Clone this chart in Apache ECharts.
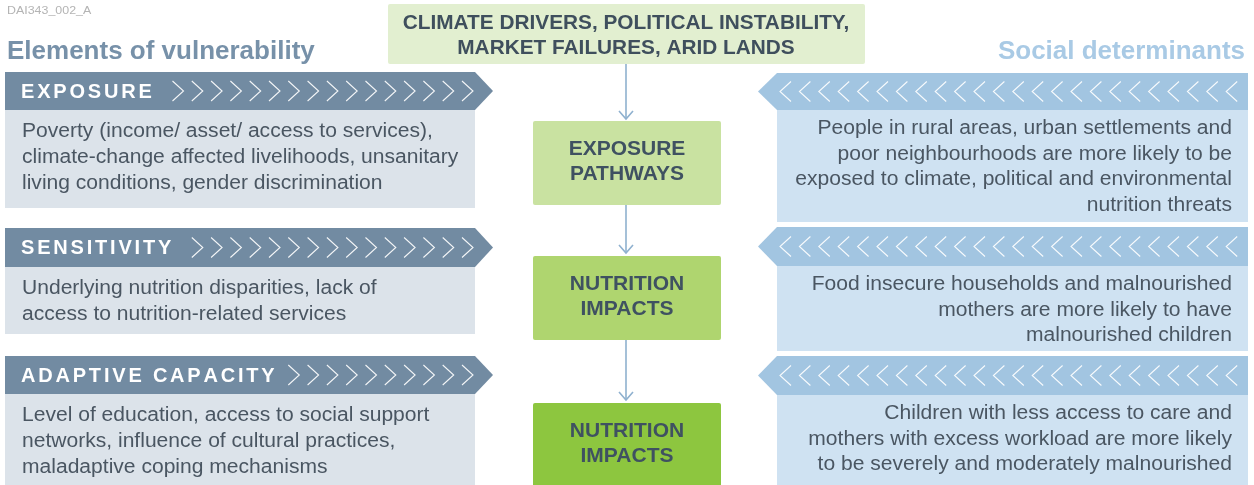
<!DOCTYPE html>
<html>
<head>
<meta charset="utf-8">
<script src="https://cdn.jsdelivr.net/npm/echarts@6/dist/echarts.min.js"></script>
<style>
  html, body { margin: 0; padding: 0; background: #fff; }
  #main { width: 1254px; height: 485px; }
</style>
</head>
<body>
<div id="main"></div>
<script>
// texts of the diagram
const docCode = 'DAI343_002_A'
const leftTitle = 'Elements of vulnerability'
const rightTitle = 'Social determinants'
const drivers = ['CLIMATE DRIVERS, POLITICAL INSTABILITY,', 'MARKET FAILURES, ARID LANDS']
const elements = ['EXPOSURE', 'SENSITIVITY', 'ADAPTIVE CAPACITY']
const elementText = [
  ['Poverty (income/ asset/ access to services),', 'climate-change affected livelihoods, unsanitary', 'living conditions, gender discrimination'],
  ['Underlying nutrition disparities, lack of', 'access to nutrition-related services'],
  ['Level of education, access to social support', 'networks, influence of cultural practices,', 'maladaptive coping mechanisms']
]
const stages = [['EXPOSURE', 'PATHWAYS'], ['NUTRITION', 'IMPACTS'], ['NUTRITION', 'IMPACTS']]
const determinants = [
  ['People in rural areas, urban settlements and', 'poor neighbourhoods are more likely to be', 'exposed to climate, political and environmental', 'nutrition threats'],
  ['Food insecure households and malnourished', 'mothers are more likely to have', 'malnourished children'],
  ['Children with less access to care and', 'mothers with excess workload are more likely', 'to be severely and moderately malnourished']
]

// layout
const FONT = '"Liberation Sans", Arial, sans-serif'
const leftRows = [{ top: 72, bot: 110, end: 208 }, { top: 228, bot: 267, end: 334 }, { top: 356, bot: 394, end: 490 }]
const rightRows = [{ top: 73, bot: 110, end: 222 }, { top: 227, bot: 266, end: 351 }, { top: 356, bot: 395, end: 490 }]
const boxes = [{ top: 121, bot: 205 }, { top: 256, bot: 340 }, { top: 403, bot: 490 }]
const boxColors = ['#c9e2a1', '#afd56f', '#8dc63f']
const cx = 626

const measure = document.createElement('canvas').getContext('2d')
const els = []

function text(x, y, str, font, fill, align, sx) {
  els.push({
    type: 'text', x: x, y: y, scaleX: sx || 1,
    style: { text: str, font: font, fill: fill, align: align || 'left', verticalAlign: 'middle' }
  })
}

function chevron(tipX, backX, mid) {
  els.push({
    type: 'polyline',
    shape: { points: [[backX, mid - 10], [tipX, mid], [backX, mid + 10]] },
    style: { stroke: 'rgba(255,255,255,0.92)', lineWidth: 1.1, fill: null }
  })
}

// header label
text(7, 11, docCode, '11.5px ' + FONT, '#b4b4b4', 'left', 1.08)
text(7, 52, leftTitle, 'bold 26px ' + FONT, '#7791a9')
text(1245, 52, rightTitle, 'bold 26px ' + FONT, '#a9cae5', 'right')

// drivers box
els.push({ type: 'rect', shape: { x: 388, y: 4, width: 477, height: 60, r: 2 }, style: { fill: '#e2efd0' } })
drivers.forEach((s, i) => text(cx, 23 + i * 25, s, 'bold 20px ' + FONT, '#3f4f5d', 'center', 1.04))

// arrows between boxes
const arrowSpans = [[64, 119], [205, 253], [340, 400]]
arrowSpans.forEach(a => {
  els.push({ type: 'line', shape: { x1: cx, y1: a[0], x2: cx, y2: a[1] }, style: { stroke: '#8fb1cf', lineWidth: 1.6 } })
  els.push({ type: 'polyline', shape: { points: [[cx - 7, a[1] - 8], [cx, a[1]], [cx + 7, a[1] - 8]] }, style: { stroke: '#8fb1cf', lineWidth: 1.6, fill: null } })
})

// stage boxes
stages.forEach((lines, i) => {
  const b = boxes[i]
  els.push({ type: 'rect', shape: { x: 533, y: b.top, width: 188, height: b.bot - b.top, r: 2 }, style: { fill: boxColors[i] } })
  lines.forEach((s, j) => text(627, b.top + 28 + j * 25, s, 'bold 21px ' + FONT, '#3f5161', 'center'))
})

// left column: elements of vulnerability
const headFont = 'bold 20px ' + FONT
measure.font = headFont
elements.forEach((name, i) => {
  const r = leftRows[i]
  const mid = (r.top + r.bot) / 2
  els.push({ type: 'polygon', shape: { points: [[5, r.top], [475, r.top], [493, mid], [475, r.bot], [5, r.bot]] }, style: { fill: '#728ba2' } })
  els.push({ type: 'rect', shape: { x: 5, y: r.bot, width: 470, height: r.end - r.bot }, style: { fill: '#dce3ea' } })
  // spaced capitals
  let x = 21
  for (const ch of name) {
    text(x, mid + 1, ch, headFont, '#ffffff')
    x += measure.measureText(ch).width + 2.8
  }
  for (let k = 0; ; k++) {
    const lx = 462 - k * 19.3
    if (lx < x + 10) break
    chevron(lx + 11, lx, mid)
  }
  elementText[i].forEach((s, j) => text(22, r.bot + 22 + j * 26, s, '19.5px ' + FONT, '#4a5662', 'left', 1.08))
})

// right column: social determinants
determinants.forEach((lines, i) => {
  const r = rightRows[i]
  const mid = (r.top + r.bot) / 2
  els.push({ type: 'polygon', shape: { points: [[1248, r.top], [777, r.top], [758, mid], [777, r.bot], [1248, r.bot]] }, style: { fill: '#a2c5e1' } })
  els.push({ type: 'rect', shape: { x: 777, y: r.bot, width: 471, height: r.end - r.bot }, style: { fill: '#cfe2f2' } })
  for (let k = 0; k < 24; k++) {
    const lx = 780 + k * 19.4
    chevron(lx, lx + 11, mid)
  }
  lines.forEach((s, j) => text(1232, r.bot + 19 + j * 25.5, s, '19.5px ' + FONT, '#4a5662', 'right', 1.08))
})

const myChart = echarts.init(document.getElementById('main'))
myChart.setOption({
  backgroundColor: '#ffffff',
  animation: false,
  graphic: { elements: els }
})
</script>
</body>
</html>
